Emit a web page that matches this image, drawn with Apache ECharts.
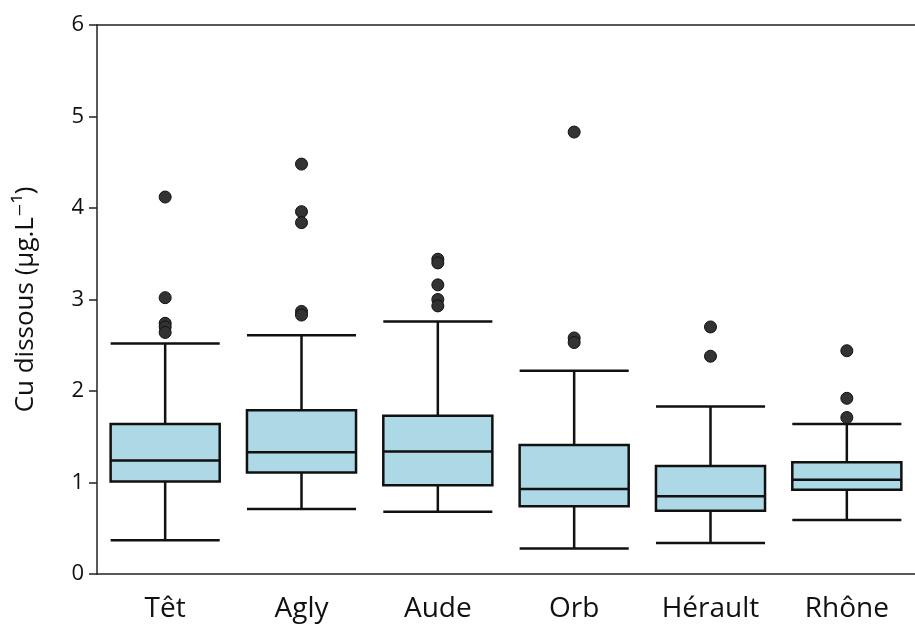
<!DOCTYPE html>
<html>
<head>
<meta charset="utf-8">
<script src="https://cdn.jsdelivr.net/npm/echarts@6/dist/echarts.min.js"></script>
<style>
  html, body { margin: 0; padding: 0; background: #fff; }
  #chart { width: 915px; height: 630px; }
</style>
</head>
<body>
<div id="chart"></div>
<script>
// rivers along the x axis
const categories = ["Têt", "Agly", "Aude", "Orb", "Hérault", "Rhône"];

// box statistics (µg/L)
const whiskerLow = [0.37, 0.71, 0.68, 0.28, 0.34, 0.59];
const q1 = [1.01, 1.11, 0.97, 0.74, 0.69, 0.92];
const median = [1.24, 1.33, 1.34, 0.93, 0.85, 1.03];
const q3 = [1.64, 1.79, 1.73, 1.41, 1.18, 1.22];
const whiskerHigh = [2.52, 2.61, 2.76, 2.22, 1.83, 1.64];

// outliers per river
const outTet = [4.12, 3.02, 2.74, 2.70, 2.64];
const outAgly = [4.48, 3.96, 3.84, 2.87, 2.83];
const outAude = [3.44, 3.40, 3.16, 3.00, 2.93];
const outOrb = [4.83, 2.58, 2.53];
const outHerault = [2.70, 2.38];
const outRhone = [2.44, 1.92, 1.71];

const yTicks = [0, 1, 2, 3, 4, 5, 6];

const boxData = categories.map((c, i) => [whiskerLow[i], q1[i], median[i], q3[i], whiskerHigh[i]]);
const outliers = [];
[outTet, outAgly, outAude, outOrb, outHerault, outRhone].forEach((arr, i) => {
  arr.forEach((v) => outliers.push([i, v]));
});

const font = "'Open Sans', 'DejaVu Sans', sans-serif";
const chart = echarts.init(document.getElementById("chart"));

chart.setOption({
  animation: false,
  backgroundColor: "#fff",
  grid: { left: 97, right: -10, top: 25, bottom: 56 },
  xAxis: [
    {
      type: "category",
      data: categories,
      boundaryGap: true,
      axisLine: { lineStyle: { color: "#222", width: 1.5 } },
      axisTick: { alignWithLabel: true, length: 7, lineStyle: { color: "#222", width: 1.5 } },
      axisLabel: { color: "#111", fontSize: 28, fontFamily: font, margin: 21 },
      splitLine: { show: false },
    },
    {
      // top frame line
      type: "category",
      position: "top",
      data: categories,
      axisLine: { lineStyle: { color: "#222", width: 1.5 } },
      axisTick: { show: false },
      axisLabel: { show: false },
    },
  ],
  yAxis: {
    type: "value",
    min: yTicks[0],
    max: yTicks[yTicks.length - 1],
    interval: 1,
    name: "Cu dissous (µg.L⁻¹)",
    nameLocation: "middle",
    nameGap: 58,
    nameTextStyle: { color: "#111", fontSize: 26, fontFamily: font },
    axisLine: { show: true, lineStyle: { color: "#222", width: 1.5 } },
    axisTick: { show: true, length: 8, lineStyle: { color: "#222", width: 1.5 } },
    axisLabel: { color: "#111", fontSize: 22, fontFamily: font, margin: 13 },
    splitLine: { show: false },
  },
  series: [
    {
      type: "boxplot",
      data: boxData,
      boxWidth: ["80%", "80%"],
      itemStyle: { color: "#add8e6", borderColor: "#111", borderWidth: 2.5 },
    },
    {
      type: "scatter",
      data: outliers,
      symbol: "circle",
      symbolSize: 12,
      itemStyle: { color: "#333", borderColor: "#111", borderWidth: 1, opacity: 1 },
      z: 5,
    },
  ],
});
</script>
</body>
</html>
